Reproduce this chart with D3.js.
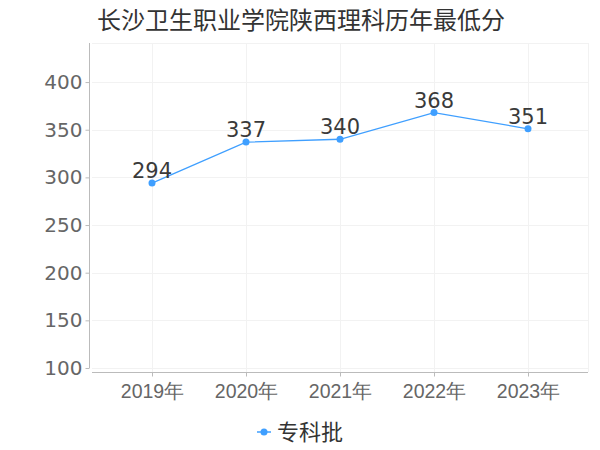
<!DOCTYPE html>
<html><head><meta charset="utf-8">
<script src="https://cdn.jsdelivr.net/npm/d3@7"></script>
<style>body{margin:0;background:#fff}svg{display:block;font-family:"DejaVu Sans","Noto Sans CJK SC",sans-serif}</style>
</head><body>
<script>
const title = "长沙卫生职业学院陕西理科历年最低分";
const categories = ["2019年","2020年","2021年","2022年","2023年"];
const values = [294,337,340,368,351];
const yTicks = [100,150,200,250,300,350,400];
const seriesName = "专科批";

(function(){
const W=600,H=450;
const svg=d3.select("body").append("svg").attr("width",W).attr("height",H);
const pLeft=89,pRight=588,pTop=43,pBottom=368,xAxisY=372;
const x=d3.scalePoint().domain(categories).range([152,528]);
const y=d3.scaleLinear().domain([100,441]).range([pBottom,pTop]);
const color="#3f9fff";

// grid
const g=svg.append("g");
g.selectAll(".hg").data(yTicks.concat([441])).join("line")
 .attr("x1",92).attr("x2",pRight).attr("y1",d=>Math.round(y(d))+0.5).attr("y2",d=>Math.round(y(d))+0.5)
 .attr("stroke","#f2f2f2").attr("stroke-width",1);
g.selectAll(".vg").data(categories).join("line")
 .attr("x1",d=>Math.round(x(d))+0.5).attr("x2",d=>Math.round(x(d))+0.5).attr("y1",pTop).attr("y2",xAxisY)
 .attr("stroke","#f2f2f2");
g.append("line").attr("x1",pRight+0.5).attr("x2",pRight+0.5).attr("y1",pTop).attr("y2",xAxisY).attr("stroke","#f2f2f2");

// y axis
const ya=svg.append("g").attr("transform",`translate(${pLeft+0.5},0)`)
 .call(d3.axisLeft(y).tickValues(yTicks).tickSize(4).tickPadding(3));
ya.select(".domain").attr("d",`M0,${pTop}V${pBottom}`).attr("stroke","#bbb");
ya.selectAll(".tick line").attr("stroke","#bbb");
ya.selectAll("text").attr("fill","#666").attr("font-size",20).attr("font-family","DejaVu Sans, Noto Sans CJK SC");

// x axis
const xa=svg.append("g").attr("transform",`translate(0,${xAxisY+0.5})`)
 .call(d3.axisBottom(x).tickSize(4).tickPadding(8));
xa.select(".domain").attr("d",`M92,0H${pRight}`).attr("stroke","#bbb");
xa.selectAll(".tick line").attr("stroke","#bbb");
xa.selectAll("text").attr("fill","#666").attr("font-size",19.5);

// line
const data=categories.map((c,i)=>({c,v:values[i]}));
svg.append("path").datum(data).attr("fill","none").attr("stroke",color).attr("stroke-width",1.3)
 .attr("d",d3.line().x(d=>x(d.c)).y(d=>y(d.v)));
svg.selectAll(".pt").data(data).join("circle").attr("cx",d=>x(d.c)).attr("cy",d=>y(d.v)).attr("r",3.5).attr("fill",color);
svg.selectAll(".lbl").data(data).join("text").attr("x",d=>x(d.c)).attr("y",d=>y(d.v)-5)
 .attr("text-anchor","middle").attr("font-size",21).attr("fill","#3a3a3a").text(d=>d.v);

// title
svg.append("text").attr("x",301).attr("y",29).attr("text-anchor","middle").attr("font-size",24)
 .attr("font-family","Noto Sans CJK SC").attr("fill","#333").text(title);

// legend
svg.append("line").attr("x1",257).attr("x2",271).attr("y1",432).attr("y2",432).attr("stroke",color).attr("stroke-width",1.5);
svg.append("circle").attr("cx",264).attr("cy",432).attr("r",3.5).attr("fill",color);
svg.append("text").attr("x",277).attr("y",440).attr("font-size",22).attr("font-family","Noto Sans CJK SC").attr("fill","#333").text(seriesName);
})();
</script>
</body></html>
